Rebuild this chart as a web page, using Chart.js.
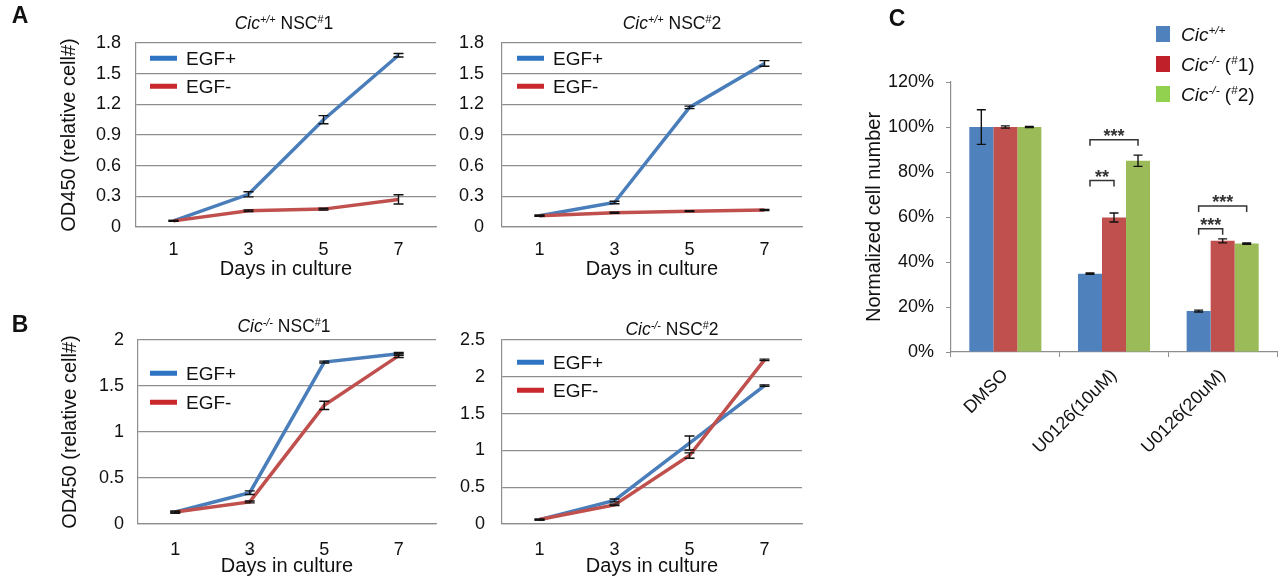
<!DOCTYPE html>
<html>
<head>
<meta charset="utf-8">
<script src="https://cdn.jsdelivr.net/npm/chart.js@4.4.1/dist/chart.umd.min.js"></script>
<style>
  body { margin: 0; background: #fff; font-family: "Liberation Sans", Arial, sans-serif; color: #111; }
  #wrap { position: relative; width: 1285px; height: 584px; overflow: hidden; }
  canvas { position: absolute; }
  .c { position: absolute; transform: translate(-50%, -50%); white-space: nowrap; line-height: 1; }
  .l { position: absolute; transform: translateY(-50%); white-space: nowrap; line-height: 1; }
  .letter { font-size: 23px; font-weight: bold; }
  .ptitle { font-size: 17.5px; }
  .leg { font-size: 19px; }
  .ln { position: absolute; width: 27px; height: 4.5px; transform: translateY(-50%); }
  .sw { position: absolute; width: 14px; height: 16px; transform: translateY(-50%); }
  sup { font-size: 0.62em; vertical-align: 0.55em; line-height: 0; }
</style>
</head>
<body>
<div id="wrap">
  <canvas id="cA1" width="450" height="290" style="left:0;top:0"></canvas>
  <canvas id="cA2" width="360" height="290" style="left:450px;top:0"></canvas>
  <canvas id="cB1" width="450" height="294" style="left:0;top:290px"></canvas>
  <canvas id="cB2" width="360" height="294" style="left:450px;top:290px"></canvas>
  <canvas id="cC" width="465" height="584" style="left:820px;top:0"></canvas>

  <div class="c letter" style="left:20px;top:15px">A</div>
  <div class="c letter" style="left:20px;top:324px">B</div>
  <div class="c letter" style="left:897px;top:18px">C</div>

  <div class="c ptitle" style="left:284px;top:24px"><i>Cic<sup>+/+</sup></i> NSC<sup>#</sup>1</div>
  <div class="c ptitle" style="left:672px;top:24px"><i>Cic<sup>+/+</sup></i> NSC<sup>#</sup>2</div>
  <div class="c ptitle" style="left:284px;top:327px"><i>Cic<sup>-/-</sup></i> NSC<sup>#</sup>1</div>
  <div class="c ptitle" style="left:672px;top:330px"><i>Cic<sup>-/-</sup></i> NSC<sup>#</sup>2</div>

  <!-- line chart legends -->
  <div class="ln" style="left:150px;top:58px;background:#2f74c2"></div>
  <div class="l leg" style="left:186px;top:58px">EGF+</div>
  <div class="ln" style="left:150px;top:86px;background:#c9282d"></div>
  <div class="l leg" style="left:186px;top:86px">EGF-</div>

  <div class="ln" style="left:517px;top:58px;background:#2f74c2"></div>
  <div class="l leg" style="left:553px;top:58px">EGF+</div>
  <div class="ln" style="left:517px;top:86px;background:#c9282d"></div>
  <div class="l leg" style="left:553px;top:86px">EGF-</div>

  <div class="ln" style="left:150px;top:373px;background:#2f74c2"></div>
  <div class="l leg" style="left:186px;top:373px">EGF+</div>
  <div class="ln" style="left:150px;top:402px;background:#c9282d"></div>
  <div class="l leg" style="left:186px;top:402px">EGF-</div>

  <div class="ln" style="left:517px;top:362px;background:#2f74c2"></div>
  <div class="l leg" style="left:553px;top:362px">EGF+</div>
  <div class="ln" style="left:517px;top:390px;background:#c9282d"></div>
  <div class="l leg" style="left:553px;top:390px">EGF-</div>

  <!-- bar chart legend -->
  <div class="sw" style="left:1156px;top:34px;background:#4f81bd"></div>
  <div class="l leg" style="left:1181px;top:34px"><i>Cic<sup>+/+</sup></i></div>
  <div class="sw" style="left:1156px;top:64px;background:#c0202a"></div>
  <div class="l leg" style="left:1181px;top:64px"><i>Cic<sup>-/-</sup></i> (<sup>#</sup>1)</div>
  <div class="sw" style="left:1156px;top:94px;background:#92d050"></div>
  <div class="l leg" style="left:1181px;top:94px"><i>Cic<sup>-/-</sup></i> (<sup>#</sup>2)</div>
</div>

<script>
// Data
const days = ['1', '3', '5', '7'];

const a1Plus = [0.06, 0.32, 1.05, 1.68];
const a1PlusErr = [0.005, 0.025, 0.04, 0.017];
const a1Minus = [0.06, 0.16, 0.175, 0.27];
const a1MinusErr = [0.005, 0.008, 0.008, 0.045];

const a2Plus = [0.11, 0.24, 1.17, 1.60];
const a2PlusErr = [0.005, 0.012, 0.012, 0.028];
const a2Minus = [0.11, 0.14, 0.155, 0.167];
const a2MinusErr = [0.005, 0.005, 0.005, 0.005];

const b1Plus = [0.13, 0.34, 1.76, 1.85];
const b1PlusErr = [0.01, 0.02, 0.01, 0.015];
const b1Minus = [0.13, 0.24, 1.29, 1.83];
const b1MinusErr = [0.01, 0.01, 0.045, 0.02];

const b2Plus = [0.06, 0.32, 1.10, 1.88];
const b2PlusErr = [0.005, 0.02, 0.095, 0.01];
const b2Minus = [0.06, 0.26, 0.93, 2.23];
const b2MinusErr = [0.005, 0.01, 0.036, 0.01];

const treatments = ['DMSO', 'U0126(10uM)', 'U0126(20uM)'];
const wt = [100, 34.8, 18.2];
const wtErr = [7.7, 0.3, 0.4];
const ko1 = [100, 59.8, 49.4];
const ko1Err = [0.5, 2.0, 0.9];
const ko2 = [100, 85, 48.2];
const ko2Err = [0.2, 2.5, 0.3];

// significance brackets: category, from series, to series, level (%), label
const sigCategory = [1, 1, 2, 2];
const sigFrom = [0, 0, 0, 0];
const sigTo = [2, 1, 2, 1];
const sigLevel = [94.3, 76.2, 64.9, 54.8];
const sigLabel = ['***', '**', '***', '***'];

Chart.defaults.font.family = '"Liberation Sans", Arial, sans-serif';
Chart.defaults.color = '#111';
Chart.defaults.animation = false;

const GRID = '#8e8e8e';
const BLUE_LINE = '#4a7ebb';
const RED_LINE = '#c0504d';

// error bars drawn from each dataset's "errors" array
const errorBarPlugin = {
    id: 'errorBars',
    afterDatasetsDraw(chart, args, opts) {
        const ctx = chart.ctx;
        const y = chart.scales.y;
        const cap = opts.cap || 4;
        ctx.save();
        ctx.strokeStyle = '#111';
        ctx.lineWidth = 1.4;
        chart.data.datasets.forEach((ds, di) => {
            if (!ds.errors) return;
            const meta = chart.getDatasetMeta(di);
            meta.data.forEach((el, i) => {
                const v = ds.data[i];
                const e = ds.errors[i];
                const top = y.getPixelForValue(v + e);
                const bot = y.getPixelForValue(v - e);
                ctx.beginPath();
                ctx.moveTo(el.x, top); ctx.lineTo(el.x, bot);
                ctx.moveTo(el.x - cap, top); ctx.lineTo(el.x + cap, top);
                ctx.moveTo(el.x - cap, bot); ctx.lineTo(el.x + cap, bot);
                ctx.stroke();
            });
        });
        ctx.restore();
    }
};

// significance brackets for panel C
const bracketPlugin = {
    id: 'brackets',
    afterDatasetsDraw(chart) {
        const ctx = chart.ctx;
        const y = chart.scales.y;
        ctx.save();
        ctx.strokeStyle = '#333';
        ctx.fillStyle = '#333';
        ctx.lineWidth = 1.5;
        ctx.font = 'bold 18px "Liberation Sans", Arial, sans-serif';
        ctx.textAlign = 'center';
        ctx.textBaseline = 'alphabetic';
        sigCategory.forEach((c, k) => {
            const x1 = chart.getDatasetMeta(sigFrom[k]).data[c].x;
            const x2 = chart.getDatasetMeta(sigTo[k]).data[c].x;
            const py = y.getPixelForValue(sigLevel[k]);
            ctx.beginPath();
            ctx.moveTo(x1, py + 6); ctx.lineTo(x1, py); ctx.lineTo(x2, py); ctx.lineTo(x2, py + 6);
            ctx.stroke();
            ctx.fillText(sigLabel[k], (x1 + x2) / 2, py + 2);
        });
        ctx.restore();
    }
};

function lineChart(id, size, area, plus, plusErr, minus, minusErr, yMax, yStep, o) {
    return new Chart(document.getElementById(id), {
        type: 'line',
        data: {
            labels: days,
            datasets: [
                { label: 'EGF+', data: plus, errors: plusErr, borderColor: BLUE_LINE, borderWidth: 3.5,
                  pointRadius: 0, tension: 0, order: 1 },
                { label: 'EGF-', data: minus, errors: minusErr, borderColor: RED_LINE, borderWidth: 3.5,
                  pointRadius: 0, tension: 0, order: 0 }
            ]
        },
        options: {
            responsive: false,
            animation: false,
            layout: { padding: { left: 0, top: area.t, right: size.w - area.r, bottom: 0 } },
            plugins: { legend: { display: false }, tooltip: { enabled: false }, errorBars: { cap: 5 } },
            scales: {
                x: {
                    offset: true,
                    grid: { display: false },
                    border: { display: true, color: GRID, width: 1.2 },
                    ticks: { font: { size: 18 }, padding: o.xPad, color: '#111' },
                    title: { display: true, text: 'Days in culture', font: { size: 20 }, color: '#111',
                             padding: { top: 0, bottom: o.xTitlePad } },
                    afterFit(s) { s.height = size.h - area.b; }
                },
                y: {
                    min: 0, max: yMax,
                    ticks: { stepSize: yStep, font: { size: 18 }, padding: o.yPad, color: '#111',
                             callback: v => String(+v.toFixed(1)) },
                    grid: { color: GRID, lineWidth: 1.2, drawTicks: false },
                    border: { display: true, color: GRID, width: 1.2 },
                    title: { display: o.yTitle, text: 'OD450 (relative cell#)', font: { size: 20 }, color: '#111',
                             padding: { top: o.yTitlePad, bottom: 0 } },
                    afterFit(s) { s.width = area.l; }
                }
            }
        },
        plugins: [errorBarPlugin]
    });
}

lineChart('cA1', { w: 450, h: 290 }, { l: 136, r: 436, t: 43, b: 227 },
    a1Plus, a1PlusErr, a1Minus, a1MinusErr, 1.8, 0.3,
    { xPad: 4, xTitlePad: 9, yPad: 15, yTitle: true, yTitlePad: 57 });
lineChart('cA2', { w: 360, h: 290 }, { l: 52, r: 352, t: 43, b: 227 },
    a2Plus, a2PlusErr, a2Minus, a2MinusErr, 1.8, 0.3,
    { xPad: 4, xTitlePad: 9, yPad: 18, yTitle: false, yTitlePad: 0 });
lineChart('cB1', { w: 450, h: 294 }, { l: 138, r: 436, t: 50, b: 234 },
    b1Plus, b1PlusErr, b1Minus, b1MinusErr, 2, 0.5,
    { xPad: 7, xTitlePad: 6, yPad: 14, yTitle: true, yTitlePad: 58 });
lineChart('cB2', { w: 360, h: 294 }, { l: 52, r: 352, t: 50, b: 234 },
    b2Plus, b2PlusErr, b2Minus, b2MinusErr, 2.5, 0.5,
    { xPad: 7, xTitlePad: 6, yPad: 17, yTitle: false, yTitlePad: 0 });

// Panel C bar chart
new Chart(document.getElementById('cC'), {
    type: 'bar',
    data: {
        labels: treatments,
        datasets: [
            { label: 'Cic+/+', data: wt, errors: wtErr, backgroundColor: '#4f81bd' },
            { label: 'Cic-/- (#1)', data: ko1, errors: ko1Err, backgroundColor: '#c0504d' },
            { label: 'Cic-/- (#2)', data: ko2, errors: ko2Err, backgroundColor: '#9bbb59' }
        ]
    },
    options: {
        responsive: false,
        animation: false,
        datasets: { bar: { categoryPercentage: 0.663, barPercentage: 1, borderWidth: 0 } },
        layout: { padding: { left: 0, top: 82, right: 8, bottom: 0 } },
        plugins: { legend: { display: false }, tooltip: { enabled: false }, errorBars: { cap: 4.5 } },
        scales: {
            x: {
                grid: { display: true, drawOnChartArea: false, color: GRID, tickLength: 5 },
                border: { display: true, color: GRID, width: 1.2 },
                ticks: { minRotation: 45, maxRotation: 45, font: { size: 18 }, padding: 8, color: '#111' },
                afterFit(s) { s.height = 584 - 352; }
            },
            y: {
                min: 0, max: 120,
                ticks: { stepSize: 20, font: { size: 18 }, padding: 12, color: '#111', callback: v => v + '%' },
                grid: { drawOnChartArea: false, color: GRID, tickLength: 5 },
                border: { display: true, color: GRID, width: 1.2 },
                title: { display: true, text: 'Normalized cell number', font: { size: 20 }, color: '#111',
                         padding: { top: 42, bottom: 0 } },
                afterFit(s) { s.width = 131; }
            }
        }
    },
    plugins: [errorBarPlugin, bracketPlugin]
});
</script>
</body>
</html>
